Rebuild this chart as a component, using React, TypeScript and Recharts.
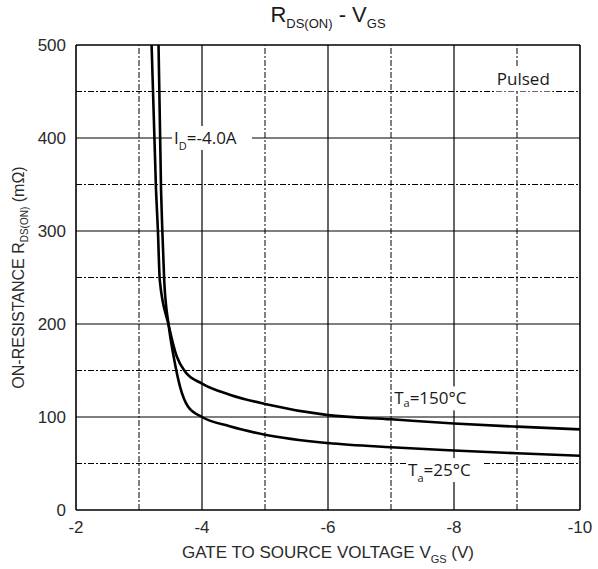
import React from "react";
import {
  LineChart,
  Line,
  XAxis,
  YAxis,
  ReferenceLine,
  ReferenceDot,
} from "recharts";

// Curve values (VGS in volts, RDS(on) in mΩ)
const vgs150 = [-3.2, -3.27, -3.3, -3.33, -3.47, -3.6, -3.73, -4.0, -4.44, -5, -6, -7, -8, -9, -10];
const rds150 = [500, 344, 301, 247, 199, 165, 149, 136, 124, 114, 102, 97.5, 93, 89.6, 86.7];
const vgs25 = [-3.31, -3.35, -3.37, -3.4, -3.47, -3.55, -3.65, -3.78, -4.0, -4.44, -5, -6, -7, -8, -9, -10];
const rds25 = [500, 344, 301, 247, 199, 165, 133, 111, 100, 90, 81, 72, 67.4, 64, 61, 58.4];

const xTicks = [-2, -4, -6, -8, -10];
const yTicks = [0, 100, 200, 300, 400, 500];
const xMinor = [-3, -5, -7, -9];
const yMinor = [50, 150, 250, 350, 450];

const series150 = vgs150.map((v, i) => ({ v, r: rds150[i] }));
const series25 = vgs25.map((v, i) => ({ v, r: rds25[i] }));

const AXIS_FONT = "'Liberation Sans', Arial, sans-serif";
const NOTE_FONT = "'Open Sans', sans-serif";
const DASH_DOT = "6 2 2 2";

function note(width: number, parts: React.ReactNode) {
  return (props: any) => {
    const { cx, cy } = props;
    return (
      <g>
        <rect x={cx - 2} y={cy - 12} width={width} height={24} fill="#fff" />
        <text
          x={cx}
          y={cy + 6}
          fontFamily={NOTE_FONT}
          fontSize={17}
          fill="#1a1a1a"
        >
          {parts}
        </text>
      </g>
    );
  };
}

export default function App() {
  return (
    <div style={{ position: "absolute", left: 0, top: 0, width: 598, height: 569, background: "#fff" }}>
      <div
        style={{
          position: "absolute",
          left: 0,
          top: 2,
          width: 656,
          textAlign: "center",
          fontFamily: AXIS_FONT,
          fontSize: 22,
          color: "#1a1a1a",
        }}
      >
        R<span style={{ fontSize: 13, verticalAlign: -6 }}>DS(ON)</span> - V
        <span style={{ fontSize: 13, verticalAlign: -6 }}>GS</span>
      </div>
      <LineChart
        width={598}
        height={569}
        margin={{ top: 45, right: 18, bottom: 0, left: 0 }}
      >
        {xMinor.map((x) => (
          <ReferenceLine key={"xm" + x} x={x} stroke="#000" strokeDasharray={DASH_DOT} />
        ))}
        {yMinor.map((y) => (
          <ReferenceLine key={"ym" + y} y={y} stroke="#000" strokeDasharray={DASH_DOT} />
        ))}
        {xTicks.map((x) => (
          <ReferenceLine key={"x" + x} x={x} stroke="#000" strokeWidth={x === -2 || x === -10 ? 1.6 : 1.2} />
        ))}
        {yTicks.map((y) => (
          <ReferenceLine key={"y" + y} y={y} stroke="#000" strokeWidth={y === 0 || y === 500 ? 1.6 : 1.2} />
        ))}
        <XAxis
          type="number"
          dataKey="v"
          domain={[-10, -2]}
          reversed
          ticks={xTicks}
          allowDataOverflow
          height={59}
          axisLine={false}
          tickLine={false}
          tickSize={0}
          tickMargin={11}
          tick={{ fill: "#2a2a2a", fontSize: 17, fontFamily: AXIS_FONT }}
          label={(p: any) => {
            const vb = p.viewBox;
            return (
              <text
                x={vb.x + vb.width / 2}
                y={vb.y + 48}
                textAnchor="middle"
                fontFamily={AXIS_FONT}
                fontSize={17}
                fill="#2a2a2a"
              >
                GATE TO SOURCE VOLTAGE V
                <tspan fontSize={11} dy={5}>GS</tspan>
                <tspan dy={-5}> (V)</tspan>
              </text>
            );
          }}
        />
        <YAxis
          type="number"
          dataKey="r"
          domain={[0, 500]}
          ticks={yTicks}
          allowDataOverflow
          width={76}
          axisLine={false}
          tickLine={false}
          tickSize={0}
          tickMargin={10}
          tick={{ fill: "#2a2a2a", fontSize: 17, fontFamily: AXIS_FONT }}
          label={(p: any) => {
            const vb = p.viewBox;
            const cx = 24;
            const cy = vb.y + vb.height / 2;
            return (
              <text
                x={cx}
                y={cy}
                transform={`rotate(-90 ${cx} ${cy})`}
                textAnchor="middle"
                fontFamily={AXIS_FONT}
                fontSize={16}
                fill="#2a2a2a"
              >
                ON-RESISTANCE R
                <tspan fontSize={10} dy={4}>DS(ON)</tspan>
                <tspan dy={-4}> (mΩ)</tspan>
              </text>
            );
          }}
        />
        <Line
          data={series150}
          dataKey="r"
          type="monotone"
          stroke="#000"
          strokeWidth={2.6}
          dot={false}
          isAnimationActive={false}
        />
        <Line
          data={series25}
          dataKey="r"
          type="monotone"
          stroke="#000"
          strokeWidth={2.6}
          dot={false}
          isAnimationActive={false}
        />
        <ReferenceDot x={-8.68} y={463} shape={note(58, "Pulsed")} />
        <ReferenceDot
          x={-3.556}
          y={400}
          shape={note(80, [
            "I",
            <tspan key="s" fontSize={11} dy={6}>D</tspan>,
            <tspan key="r" dy={-6}>=-4.0A</tspan>,
          ])}
        />
        <ReferenceDot
          x={-7.05}
          y={120}
          shape={note(88, [
            "T",
            <tspan key="s" fontSize={11} dy={3}>a</tspan>,
            <tspan key="r" dy={-3}>=150°C</tspan>,
          ])}
        />
        <ReferenceDot
          x={-7.27}
          y={43}
          shape={note(76, [
            "T",
            <tspan key="s" fontSize={11} dy={6}>a</tspan>,
            <tspan key="r" dy={-6}>=25°C</tspan>,
          ])}
        />
      </LineChart>
    </div>
  );
}
